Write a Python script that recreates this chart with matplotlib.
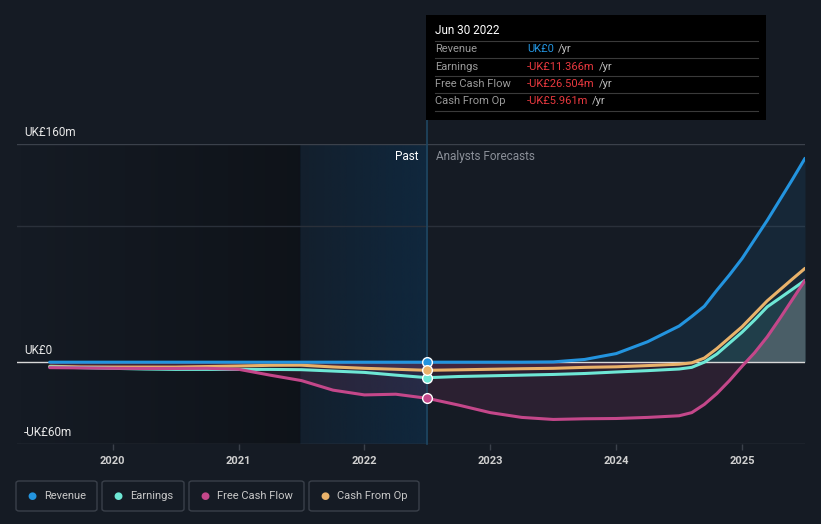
import numpy as np
import matplotlib
matplotlib.use("Agg")
import matplotlib.pyplot as plt
from matplotlib.patches import Rectangle, FancyBboxPatch
from matplotlib.colors import to_rgba

plt.rcParams["font.family"] = ["Roboto", "DejaVu Sans"]

# past data, quarterly (UK£m)
past_x = [2019.5, 2019.75, 2020.0, 2020.25, 2020.5, 2020.75, 2021.0,
          2021.25, 2021.5, 2021.75, 2022.0, 2022.25, 2022.5]
past_revenue = [0, 0, 0, 0, 0, 0, 0, 0, 0, 0, 0, 0, 0]
past_earnings = [-3.5, -4.0, -4.5, -5.0, -5.3, -5.3, -5.3, -5.3, -5.5, -6.5, -7.5, -9.5, -11.366]
past_fcf = [-4.0, -4.2, -4.5, -4.6, -4.6, -4.5, -5.2, -9.5, -13.5, -20.5, -24.0, -23.5, -26.504]
past_cfo = [-3.0, -3.5, -3.6, -3.6, -3.6, -3.2, -2.8, -2.3, -2.2, -3.5, -4.5, -5.2, -5.961]

# analyst forecasts (UK£m)
fc_x = [2022.5, 2022.75, 2023.0, 2023.25, 2023.5, 2023.75, 2024.0, 2024.25, 2024.5,
        2024.6, 2024.7, 2024.8, 2024.9, 2025.0, 2025.1, 2025.2, 2025.3, 2025.4, 2025.5]
fc_revenue = [0, 0, 0, 0, 0.2, 2.0, 6.3, 15.0, 26.5, 33.5, 41.0, 52.8, 64.0,
              76.0, 90.0, 104.0, 119.0, 134.0, 149.5]
fc_earnings = [-11.366, -10.5, -10.0, -9.5, -9.0, -8.3, -7.2, -6.2, -5.0, -3.8, 0.0,
               6.0, 14.0, 22.0, 31.0, 40.6, 47.0, 53.5, 60.0]
fc_fcf = [-26.504, -31.5, -37.0, -40.5, -42.0, -41.5, -41.3, -40.5, -39.3, -37.0,
          -31.0, -23.0, -13.5, -3.0, 7.0, 18.6, 32.0, 46.0, 60.0]
fc_cfo = [-5.961, -5.6, -5.2, -4.8, -4.5, -3.8, -3.4, -2.5, -1.5, -0.5, 3.0, 10.0,
          18.0, 26.0, 35.5, 45.0, 53.0, 61.0, 68.8]

names = ["Revenue", "Earnings", "Free Cash Flow", "Cash From Op"]
colors = ["#2394df", "#6ee7d5", "#c4478a", "#e9b26a"]
tip_values = ["UK£0", "-UK£11.366m", "-UK£26.504m", "-UK£5.961m"]

BG = "#151b24"
W, H = 821, 524
fig = plt.figure(figsize=(W / 100, H / 100), dpi=100, facecolor=BG)


def fx(x):
    return x / W


def fy(y):
    return 1 - y / H


x0, x1 = 2019.24, 2025.5
ax = fig.add_axes([fx(17), fy(444), fx(805) - fx(17), fy(144) - fy(444)])
ax.set_facecolor(BG)
for s in ax.spines.values():
    s.set_visible(False)

# darkening before the highlighted past window
dark = np.zeros((1, 200, 4))
dark[..., 3] = np.linspace(0.0, 0.3, 200)
ax.imshow(dark, extent=[x0, 2021.49, -60, 160], aspect="auto", zorder=0)
# blue highlight of the last past year
blue = np.zeros((1, 200, 4))
blue[..., :3] = to_rgba("#0f2a42")[:3]
blue[..., 3] = np.linspace(0.3, 0.85, 200)
ax.imshow(blue, extent=[2021.49, 2022.5, -60, 160], aspect="auto", zorder=0)
ax.set_xlim(x0, x1)
ax.set_ylim(-60, 160)

# grid
ax.axhline(160, color="#3b414b", lw=1, zorder=1)
ax.axhline(100, color="#2a303a", lw=1, zorder=1)
ax.axhline(-60, color="#3b414b", lw=1, zorder=1)
ax.axhline(0, color="#d8d8d8", lw=1, zorder=2)

all_x = past_x + fc_x[1:]
series = [
    past_revenue + fc_revenue[1:],
    past_earnings + fc_earnings[1:],
    past_fcf + fc_fcf[1:],
    past_cfo + fc_cfo[1:],
]
xa = np.array(all_x)
rev, earn, fcf, cfo = (np.array(s) for s in series)

# fills
ax.fill_between(xa, 0, rev, color="#2394df", alpha=0.10, lw=0, zorder=1)
ax.fill_between(xa, 0, fcf, where=fcf <= 0, interpolate=True, color="#c4478a", alpha=0.13, lw=0, zorder=1)
ax.fill_between(xa, 0, cfo, where=cfo <= 0, interpolate=True, color="#c4478a", alpha=0.15, lw=0, zorder=1)
ax.fill_between(xa, 0, earn, where=earn >= 0, interpolate=True, color="#6ee7d5", alpha=0.12, lw=0, zorder=1)
ax.fill_between(xa, 0, fcf, where=fcf >= 0, interpolate=True, color="#9a9aa0", alpha=0.35, lw=0, zorder=1)

for i in [3, 1, 2, 0]:
    ax.plot(xa, series[i], color=colors[i], lw=2.2, solid_capstyle="round",
            solid_joinstyle="round", zorder=4)

# markers at Jun 30 2022
for i in range(4):
    ax.plot([2022.5], [series[i][len(past_x) - 1]], "o", ms=7, mfc=colors[i],
            mec="white", mew=1, zorder=6)

# today line
ax.plot([2022.5, 2022.5], [-60, 177.6], color="#1f4762", lw=1.2, clip_on=False, zorder=3)

ax.text(2022.43, 151, "Past", color="white", fontsize=8.5, ha="right", va="center")
ax.text(2022.57, 151, "Analysts Forecasts", color="#8a8f98", fontsize=8.5, ha="left", va="center")

# x axis
ax.set_xticks([2020, 2021, 2022, 2023, 2024, 2025])
ax.set_xticklabels(["2020", "2021", "2022", "2023", "2024", "2025"])
ax.tick_params(axis="x", colors="#3b414b", length=4, width=1, pad=5, labelcolor="#d0d0d0", labelsize=8)
for lbl in ax.get_xticklabels():
    lbl.set_fontweight("bold")
ax.set_yticks([])

# y labels
for ylab, ypix in [("UK£160m", 132), ("UK£0", 350), ("-UK£60m", 432)]:
    fig.text(fx(24), fy(ypix), ylab, color="#e8e8e8", fontsize=8.5, ha="left", va="center")

# tooltip
fig.patches.append(Rectangle((fx(426), fy(120)), fx(766) - fx(426), fy(15) - fy(120),
                             transform=fig.transFigure, facecolor="black", edgecolor="none", zorder=10))
fig.text(fx(435), fy(31), "Jun 30 2022", color="white", fontsize=8.5, ha="left", va="center", zorder=11)
for ly in [41, 58, 76, 93, 111]:
    fig.add_artist(plt.Line2D([fx(435), fx(758)], [fy(ly), fy(ly)], transform=fig.transFigure,
                              color="#3a3a3a", lw=0.8, zorder=11))
renderer = fig.canvas.get_renderer()
for i, ry in enumerate([49.5, 66.5, 84, 101.5]):
    fig.text(fx(435), fy(ry), names[i], color="#9a9a9a", fontsize=8, ha="left", va="center", zorder=11)
    vcol = "#2394df" if i == 0 else "#e8393f"
    t = fig.text(fx(527), fy(ry), tip_values[i], color=vcol, fontsize=8, ha="left", va="center", zorder=11)
    bb = t.get_window_extent(renderer)
    fig.text(bb.x1 / W + fx(4), fy(ry), "/yr", color="#bdbdbd", fontsize=8, ha="left", va="center", zorder=11)

# legend
boxes = [(16, 97), (102, 184), (189, 304), (309, 419)]
for i, (bx0, bx1) in enumerate(boxes):
    fig.patches.append(FancyBboxPatch((fx(bx0), fy(511)), fx(bx1) - fx(bx0), fy(481) - fy(511),
                                      boxstyle="round,pad=0,rounding_size=0.004",
                                      transform=fig.transFigure, facecolor=BG,
                                      edgecolor="#3a404a", lw=1))
    fig.text(fx(bx0 + 16), fy(496), "●", color=colors[i], fontsize=7.5, ha="center", va="center",
             family="DejaVu Sans")
    fig.text(fx(bx0 + 28), fy(496), names[i], color="#c8c8c8", fontsize=8, ha="left", va="center")

fig.savefig("out.png", dpi=100, facecolor=BG)
